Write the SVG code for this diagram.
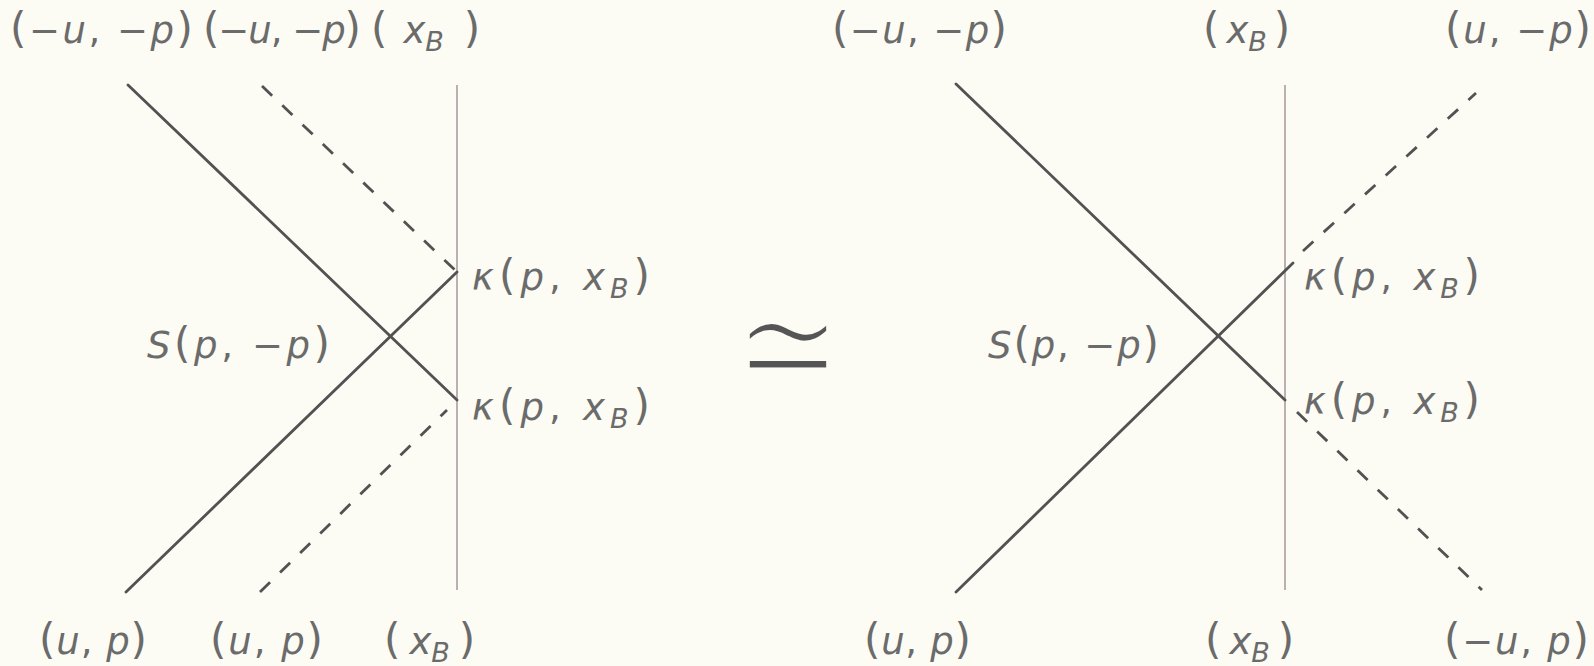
<svg xmlns="http://www.w3.org/2000/svg" width="1594" height="666" viewBox="0 0 1594 666">
<style>
.bg{fill:#fcfcf4}
.ln{stroke:#525252;stroke-width:2.8;fill:none;stroke-linecap:round}
.ds{stroke:#525252;stroke-width:2.8;fill:none;stroke-dasharray:14 14}
.wall{stroke:#b0a2a6;stroke-width:1.7;fill:none}
text{font-family:"DejaVu Sans","Liberation Sans",sans-serif;font-size:37px;fill:#6b6b6b}
.i{font-style:italic}
.pr{font-size:42px}
.sub{font-size:27px;font-style:italic}
.sim{font-size:125px;fill:#555;stroke:#fcfcf4;stroke-width:5.5}
</style>
<rect class="bg" x="0" y="0" width="1594" height="666"/>

<g id="connectors">
  <!-- left diagram -->
  <line class="wall" x1="457" y1="85" x2="457" y2="590"/>
  <line class="ln" x1="128" y1="85" x2="457" y2="400"/>
  <line class="ln" x1="126" y1="592" x2="457" y2="272"/>
  <line class="ds" x1="262" y1="86" x2="457" y2="272"/>
  <line class="ds" x1="260" y1="592" x2="447" y2="410"/>
  <!-- right diagram -->
  <line class="wall" x1="1285" y1="85" x2="1285" y2="590"/>
  <line class="ln" x1="956" y1="84" x2="1285" y2="400"/>
  <line class="ln" x1="956" y1="592" x2="1293" y2="263"/>
  <line class="ds" x1="1303" y1="251" x2="1476" y2="93"/>
  <line class="ds" x1="1297" y1="412" x2="1482" y2="590"/>
</g>

<g id="left-top-labels">
  <text id="t1" x="10" y="43" textLength="183" lengthAdjust="spacing"><tspan class="pr">(</tspan>−<tspan class="i">u</tspan>, −<tspan class="i">p</tspan><tspan class="pr">)</tspan></text>
  <text id="t2" x="203" y="43" textLength="158" lengthAdjust="spacing"><tspan class="pr">(</tspan>−<tspan class="i">u</tspan>, −<tspan class="i">p</tspan><tspan class="pr">)</tspan></text>
  <text id="t3" x="371" y="43"><tspan class="pr">(</tspan><tspan class="i" dx="16">x</tspan><tspan class="sub" dy="8">B</tspan><tspan class="pr" dx="20" dy="-8">)</tspan></text>
</g>
<g id="left-bottom-labels">
  <text id="b1" x="39" y="654" textLength="108" lengthAdjust="spacing"><tspan class="pr">(</tspan><tspan class="i">u</tspan>, <tspan class="i">p</tspan><tspan class="pr">)</tspan></text>
  <text id="b2" x="210" y="654" textLength="113" lengthAdjust="spacing"><tspan class="pr">(</tspan><tspan class="i">u</tspan>, <tspan class="i">p</tspan><tspan class="pr">)</tspan></text>
  <text id="b3" x="384" y="654"><tspan class="pr">(</tspan><tspan class="i" dx="9">x</tspan><tspan class="sub" dy="8">B</tspan><tspan class="pr" dx="9" dy="-8">)</tspan></text>
</g>
<g id="left-mid-labels">
  <text id="s1" x="147" y="358" textLength="183" lengthAdjust="spacing"><tspan class="i">S</tspan><tspan class="pr">(</tspan><tspan class="i">p</tspan>, −<tspan class="i">p</tspan><tspan class="pr">)</tspan></text>
  <text id="k1" x="472" y="290" textLength="178" lengthAdjust="spacing"><tspan class="i">κ</tspan><tspan class="pr">(</tspan><tspan class="i">p</tspan>, <tspan class="i">x</tspan><tspan class="sub" dy="8">B</tspan><tspan class="pr" dy="-8">)</tspan></text>
  <text id="k2" x="472" y="420" textLength="178" lengthAdjust="spacing"><tspan class="i">κ</tspan><tspan class="pr">(</tspan><tspan class="i">p</tspan>, <tspan class="i">x</tspan><tspan class="sub" dy="8">B</tspan><tspan class="pr" dy="-8">)</tspan></text>
</g>

<g id="equiv">
  <text class="sim" x="0" y="0" text-anchor="middle" transform="translate(788,399) scale(1.05,1.3)">≃</text>
</g>

<g id="right-top-labels">
  <text id="t4" x="832" y="43" textLength="175" lengthAdjust="spacing"><tspan class="pr">(</tspan>−<tspan class="i">u</tspan>, −<tspan class="i">p</tspan><tspan class="pr">)</tspan></text>
  <text id="t5" x="1203" y="43"><tspan class="pr">(</tspan><tspan class="i" dx="7">x</tspan><tspan class="sub" dy="8">B</tspan><tspan class="pr" dx="7" dy="-8">)</tspan></text>
  <text id="t6" x="1445" y="43" textLength="146" lengthAdjust="spacing"><tspan class="pr">(</tspan><tspan class="i">u</tspan>, −<tspan class="i">p</tspan><tspan class="pr">)</tspan></text>
</g>
<g id="right-bottom-labels">
  <text id="b4" x="864" y="654" textLength="107" lengthAdjust="spacing"><tspan class="pr">(</tspan><tspan class="i">u</tspan>, <tspan class="i">p</tspan><tspan class="pr">)</tspan></text>
  <text id="b5" x="1205" y="654"><tspan class="pr">(</tspan><tspan class="i" dx="8">x</tspan><tspan class="sub" dy="8">B</tspan><tspan class="pr" dx="8" dy="-8">)</tspan></text>
  <text id="b6" x="1444" y="654" textLength="145" lengthAdjust="spacing"><tspan class="pr">(</tspan>−<tspan class="i">u</tspan>, <tspan class="i">p</tspan><tspan class="pr">)</tspan></text>
</g>
<g id="right-mid-labels">
  <text id="s2" x="988" y="358" textLength="171" lengthAdjust="spacing"><tspan class="i">S</tspan><tspan class="pr">(</tspan><tspan class="i">p</tspan>, −<tspan class="i">p</tspan><tspan class="pr">)</tspan></text>
  <text id="k3" x="1304" y="290" textLength="176" lengthAdjust="spacing"><tspan class="i">κ</tspan><tspan class="pr">(</tspan><tspan class="i">p</tspan>, <tspan class="i">x</tspan><tspan class="sub" dy="8">B</tspan><tspan class="pr" dy="-8">)</tspan></text>
  <text id="k4" x="1304" y="414" textLength="176" lengthAdjust="spacing"><tspan class="i">κ</tspan><tspan class="pr">(</tspan><tspan class="i">p</tspan>, <tspan class="i">x</tspan><tspan class="sub" dy="8">B</tspan><tspan class="pr" dy="-8">)</tspan></text>
</g>
</svg>
